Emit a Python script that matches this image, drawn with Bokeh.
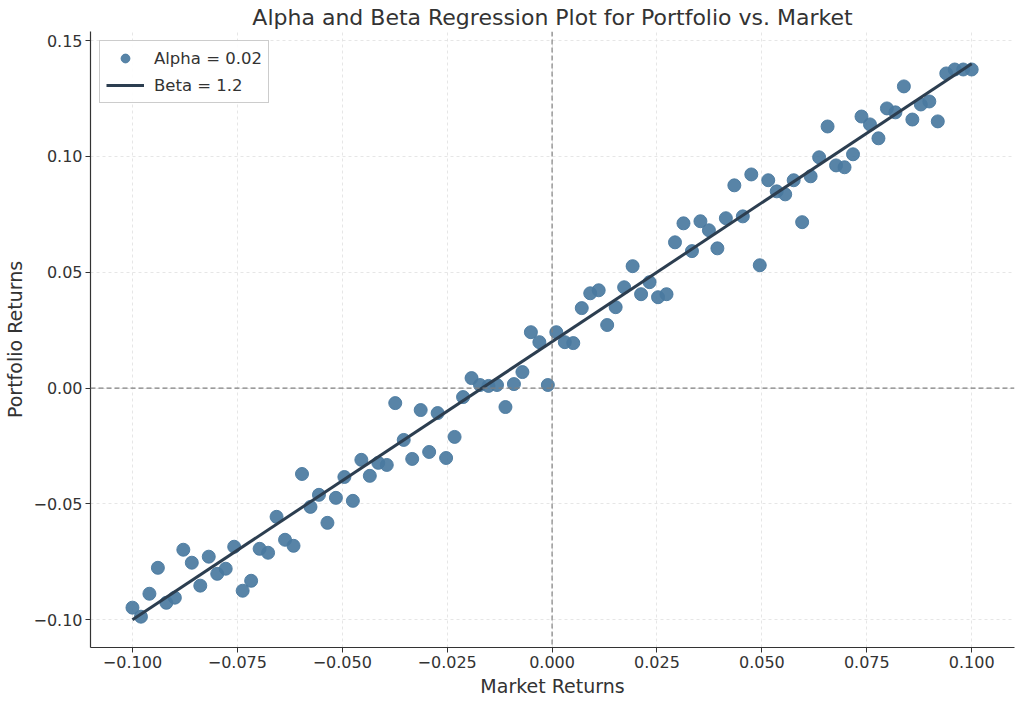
from bokeh.plotting import figure
from bokeh.models import FixedTicker, Span, Legend, LegendItem, Range1d
from bokeh.embed import file_html
from bokeh.resources import INLINE
import numpy as np

market_returns = list(np.linspace(-0.1, 0.1, 100))
portfolio_returns = [
    -0.0948, -0.0987, -0.0888, -0.0776, -0.0927, -0.0905, -0.0698, -0.0754, -0.0853, -0.0728,
    -0.0802, -0.0780, -0.0685, -0.0875, -0.0832, -0.0694, -0.0711, -0.0556, -0.0655, -0.0681,
    -0.0371, -0.0513, -0.0461, -0.0582, -0.0474, -0.0384, -0.0487, -0.0310, -0.0379, -0.0323,
    -0.0332, -0.0065, -0.0224, -0.0306, -0.0095, -0.0276, -0.0108, -0.0302, -0.0211, -0.0039,
    0.0043, 0.0013, 0.0009, 0.0013, -0.0082, 0.0017, 0.0069, 0.0241, 0.0198, 0.0013,
    0.0241, 0.0198, 0.0194, 0.0345, 0.0409, 0.0422, 0.0272, 0.0349, 0.0435, 0.0526,
    0.0405, 0.0457, 0.0392, 0.0405, 0.0629, 0.0711, 0.0591, 0.0720, 0.0681, 0.0603,
    0.0733, 0.0875, 0.0741, 0.0922, 0.0530, 0.0897, 0.0849, 0.0836, 0.0897, 0.0716,
    0.0914, 0.0996, 0.1129, 0.0961, 0.0953, 0.1009, 0.1172, 0.1138, 0.1078, 0.1207,
    0.1190, 0.1302, 0.1159, 0.1224, 0.1237, 0.1151, 0.1358, 0.1375, 0.1375, 0.1375,
]
alpha = 0.02
beta = 1.2
line_x = [-0.1, 0.1]
line_y = [alpha + beta * v for v in line_x]

x_ticks = [-0.1, -0.075, -0.05, -0.025, 0.0, 0.025, 0.05, 0.075, 0.1]
x_labels = ["\u22120.100", "\u22120.075", "\u22120.050", "\u22120.025", "0.000", "0.025", "0.050", "0.075", "0.100"]
y_ticks = [-0.1, -0.05, 0.0, 0.05, 0.1, 0.15]
y_labels = ["\u22120.10", "\u22120.05", "0.00", "0.05", "0.10", "0.15"]

FONT = "DejaVu Sans"
TXT = "#333333"

p = figure(width=1024, height=703, output_backend="svg", toolbar_location=None,
           x_range=Range1d(-0.11, 0.1102), y_range=Range1d(-0.112, 0.1539),
           title="Alpha and Beta Regression Plot for Portfolio vs. Market",
           min_border_left=90, min_border_right=10, min_border_bottom=56, min_border_top=0)
p.outline_line_color = None
p.title.align = "center"
p.title.text_font = FONT
p.title.text_font_size = "22px"
p.title.text_font_style = "normal"
p.title.text_color = TXT
p.title.standoff = 4

for ax in (p.xaxis[0], p.yaxis[0]):
    ax.axis_label_text_font = FONT
    ax.axis_label_text_font_size = "19px"
    ax.axis_label_text_font_style = "normal"
    ax.axis_label_text_color = TXT
    ax.major_label_text_font = FONT
    ax.major_label_text_font_size = "16px"
    ax.major_label_text_color = TXT
    ax.major_label_standoff = 3
    ax.axis_label_standoff = 4
    ax.axis_line_color = "#333333"
    ax.axis_line_width = 1.2
    ax.major_tick_line_color = "#333333"
    ax.major_tick_in = 0
    ax.major_tick_out = 5
    ax.minor_tick_line_color = None

p.xaxis.axis_label = "Market Returns"
p.yaxis.axis_label = "Portfolio Returns"
p.xaxis.ticker = FixedTicker(ticks=x_ticks)
p.yaxis.ticker = FixedTicker(ticks=y_ticks)
p.xaxis.major_label_overrides = {t: l for t, l in zip(x_ticks, x_labels)}
p.yaxis.major_label_overrides = {t: l for t, l in zip(y_ticks, y_labels)}

for g in (p.xgrid[0], p.ygrid[0]):
    g.grid_line_color = "#e0e0e0"
    g.grid_line_dash = "3 3"
    g.grid_line_width = 0.8

p.add_layout(Span(location=0, dimension="width", line_color="#808080", line_dash="5 3", line_width=1.2))
p.add_layout(Span(location=0, dimension="height", line_color="#808080", line_dash="5 3", line_width=1.2))

pts = p.scatter(market_returns, portfolio_returns, size=13, fill_color="#4a7aa0", line_color="#4a7aa0",
                fill_alpha=0.92, line_alpha=0.92)
ln = p.line(line_x, line_y, line_color="#2c3e50", line_width=3)

legend = Legend(items=[LegendItem(label="Alpha = 0.02", renderers=[pts]),
                       LegendItem(label="Beta = 1.2", renderers=[ln])],
                location="top_left")
legend.label_text_font = FONT
legend.label_text_font_size = "16.5px"
legend.label_text_color = TXT
legend.border_line_color = "#cccccc"
legend.border_line_alpha = 1
legend.background_fill_alpha = 0.9
legend.margin = 9
legend.padding = 6
legend.spacing = 5
legend.glyph_width = 38
legend.glyph_height = 22
legend.label_standoff = 10
p.add_layout(legend)

open("out.html", "w").write(file_html(p, INLINE))
